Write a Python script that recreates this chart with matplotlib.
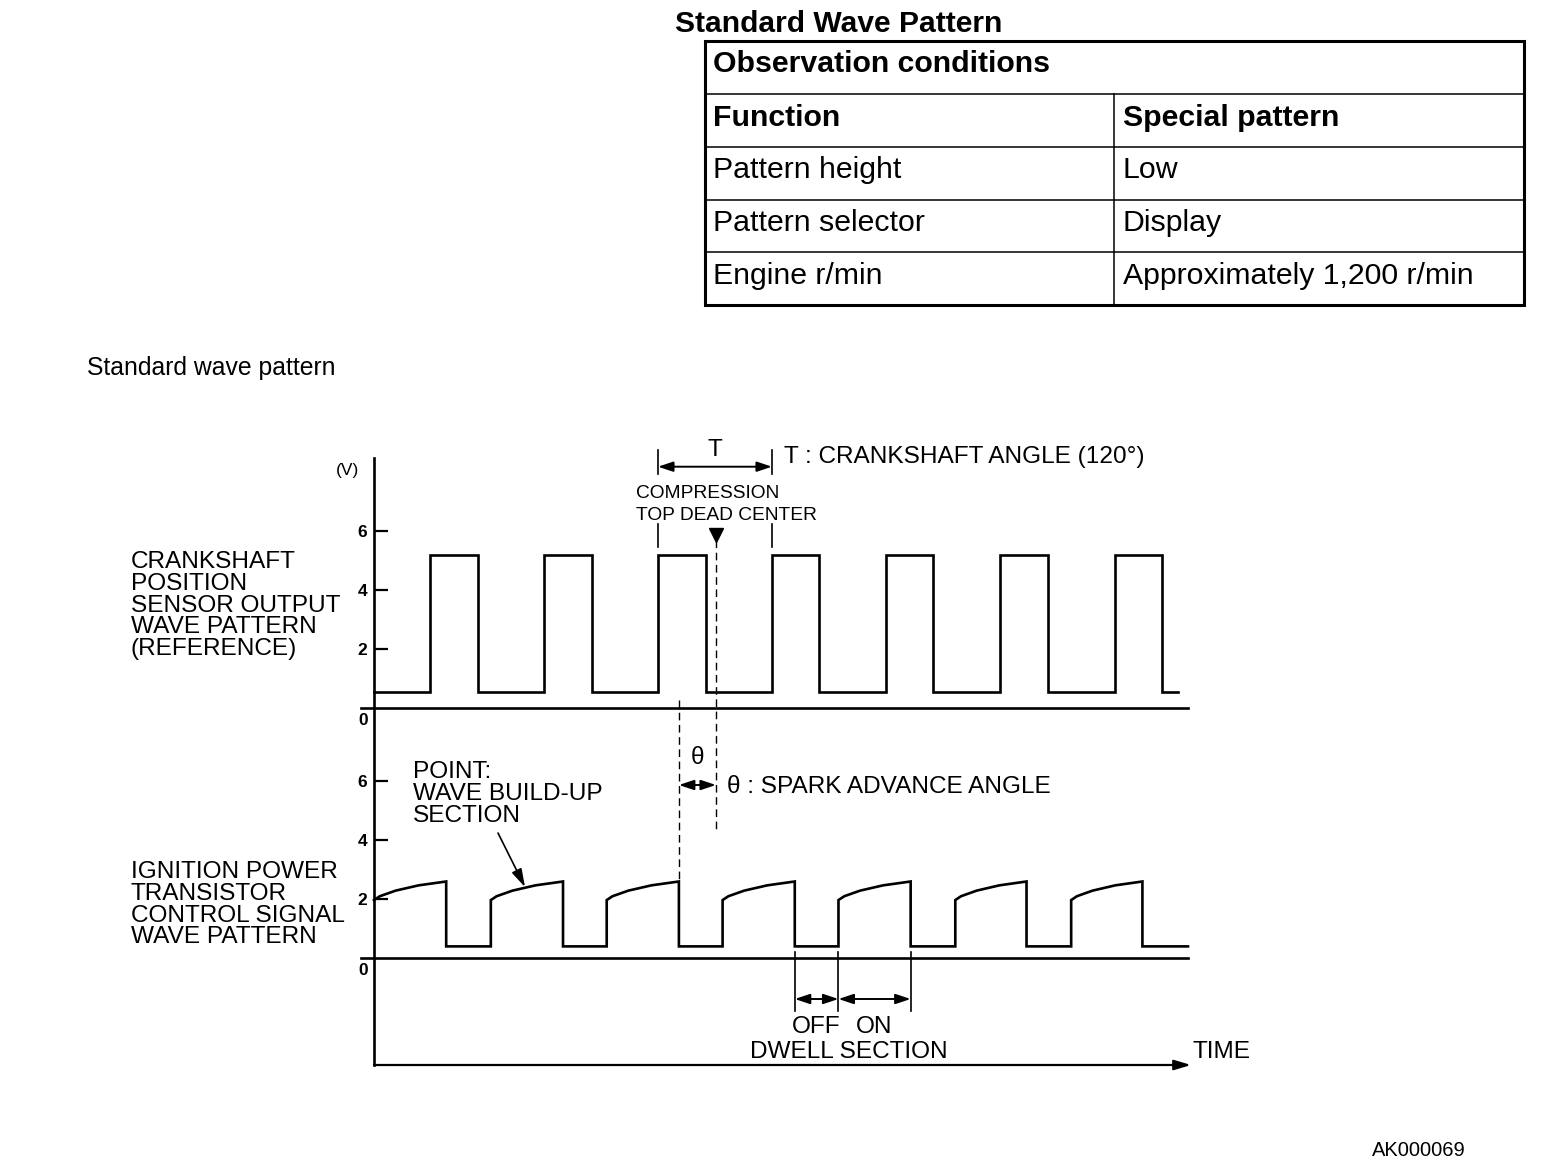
import matplotlib
matplotlib.use("Agg")
import matplotlib.pyplot as plt
from matplotlib.transforms import blended_transform_factory
from matplotlib.patches import Rectangle, ArrowStyle

plt.rcParams['font.family'] = ['Liberation Sans', 'DejaVu Sans']

# ---------------- data ----------------
page_title = "Standard Wave Pattern"
table_header = "Observation conditions"
table_left = ["Function", "Pattern height", "Pattern selector", "Engine r/min"]
table_right = ["Special pattern", "Low", "Display", "Approximately 1,200 r/min"]
section_title = "Standard wave pattern"
figure_code = "AK000069"

yticks = [2, 4, 6]
y_unit = "(V)"

cps_label = ["CRANKSHAFT", "POSITION", "SENSOR OUTPUT", "WAVE PATTERN", "(REFERENCE)"]
ign_label = ["IGNITION POWER", "TRANSISTOR", "CONTROL SIGNAL", "WAVE PATTERN"]
point_label = ["POINT:", "WAVE BUILD-UP", "SECTION"]

# crankshaft position sensor signal: edges in crank angle (deg)
cps_rise = [59, 179, 299, 419, 539, 659, 780]
cps_fall = [110, 230, 350, 469, 589, 710, 830]
cps_end = 846
cps_low = 0.55
cps_high = 5.2

# ignition power transistor control signal
ign_on = [0, 123, 245, 367, 489, 612, 734]    # start of build-up ramp
ign_off = [76, 199, 321, 443, 565, 687, 809]  # ignition (drop)
ign_end = 857
ign_low = 0.38
ramp_frac = [0.0, 0.08, 0.3, 0.62, 1.0]
ramp_volt = [1.95, 2.08, 2.27, 2.45, 2.58]

time_max = 857
tdc_angle = 360
point_target = (159, 2.39)

# ---------------- figure ----------------
W, H = 1568, 1160
fig = plt.figure(figsize=(W / 100, H / 100), dpi=100)
ov = fig.add_axes([0, 0, 1, 1], zorder=0)
ov.set_xlim(0, W)
ov.set_ylim(H, 0)
ov.axis('off')

X0, X1 = 374, 1188
PXV = 29.5
LW = 1.9
FS = 17.6


def wave_axes(zero_px, vmin, vmax):
    top = zero_px - vmax * PXV
    bot = zero_px - vmin * PXV
    ax = fig.add_axes([X0 / W, 1 - bot / H, (X1 - X0) / W, (bot - top) / H], zorder=2)
    ax.set_xlim(0, time_max)
    ax.set_ylim(vmin, vmax)
    ax.patch.set_alpha(0)
    for s in ax.spines.values():
        s.set_visible(False)
    ax.set_xticks([])
    ax.set_yticks(yticks, labels=[str(v) for v in yticks], fontweight='bold', fontsize=12.5)
    ax.tick_params(axis='y', direction='in', length=10, width=1.6, pad=5)
    ax.axhline(0, xmin=-13 / (X1 - X0), xmax=1, color='k', lw=LW, clip_on=False)
    ax.annotate("0", xy=(0, 0), xycoords='data', xytext=(-6, -17),
                textcoords='offset pixels', ha='right', va='baseline',
                fontsize=12.5, fontweight='bold')
    return ax


ax1 = wave_axes(708.3, -0.6, 8.5)
ax2 = wave_axes(957.6, -0.6, 7.0)

# crankshaft position sensor wave
tx, ty = [0], [cps_low]
for r, f in zip(cps_rise, cps_fall):
    tx += [r, r, f, f]
    ty += [cps_low, cps_high, cps_high, cps_low]
tx.append(cps_end)
ty.append(cps_low)
ax1.plot(tx, ty, color='k', lw=LW, solid_joinstyle='miter', clip_on=False)

# ignition power transistor wave
bx, by = [], []
for k, (on, off) in enumerate(zip(ign_on, ign_off)):
    if k > 0:
        bx.append(on)
        by.append(ign_low)
    for fr, v in zip(ramp_frac, ramp_volt):
        bx.append(on + fr * (off - on))
        by.append(v)
    bx.append(off)
    by.append(ign_low)
bx.append(ign_end)
by.append(ign_low)
ax2.plot(bx, by, color='k', lw=LW, solid_joinstyle='miter', clip_on=False)

# axes lines
ov.plot([X0, X0], [458, 1065], color='k', lw=LW)
ov.annotate('', xy=(1191, 1065), xytext=(X0, 1065), xycoords='data', textcoords='data',
            arrowprops=dict(arrowstyle=ArrowStyle('-|>', head_length=10, head_width=3),
                            mutation_scale=1, lw=1.6, color='k', shrinkA=0, shrinkB=0))

bt = blended_transform_factory(ax1.transData, ov.transData)
dash = (0, (5.5, 3.3))

# T markers (one crank period)
tA, tB = cps_rise[2], cps_rise[3]
for xv in (tA, tB):
    ov.plot([xv, xv], [450, 474], color='k', lw=1.2, transform=bt)
    ov.plot([xv, xv], [524, 547], color='k', lw=1.2, transform=bt)
dbl = ArrowStyle('<|-|>', head_length=9, head_width=3)
ov.annotate('', xy=(tB, 466.7), xytext=(tA, 466.7), xycoords=bt, textcoords=bt,
            arrowprops=dict(arrowstyle=dbl, mutation_scale=1, lw=1.4, color='k',
                            shrinkA=0, shrinkB=0))
ov.text((tA + tB) / 2, 456, "T", transform=bt, ha='center', va='baseline', fontsize=FS)
ov.text(784, 463, "T : CRANKSHAFT ANGLE (120°)", ha='left', va='baseline', fontsize=FS)
ov.text(636, 498, "COMPRESSION", ha='left', va='baseline', fontsize=13.8)
ov.text(636, 520, "TOP DEAD CENTER", ha='left', va='baseline', fontsize=13.8)

# TDC marker and dashed lines
ov.plot([tdc_angle], [535], marker='v', ms=10, color='k', transform=bt, clip_on=False)
ov.plot([tdc_angle, tdc_angle], [540, 830], color='k', lw=1.0, ls=dash, transform=bt)
ov.plot([ign_off[2], ign_off[2]], [700, 882], color='k', lw=1.0, ls=dash, transform=bt)

# spark advance
ov.annotate('', xy=(tdc_angle, 785), xytext=(ign_off[2], 785), xycoords=bt, textcoords=bt,
            arrowprops=dict(arrowstyle=dbl, mutation_scale=1, lw=1.4, color='k',
                            shrinkA=0, shrinkB=0))
ov.text((tdc_angle + ign_off[2]) / 2, 764, "θ", transform=bt, ha='center', va='baseline',
        fontsize=FS)
ov.text(727, 793, "θ : SPARK ADVANCE ANGLE", ha='left', va='baseline', fontsize=FS)

# dwell section
for xv in (ign_off[3], ign_on[4], ign_off[4]):
    ov.plot([xv, xv], [952, 1010.5], color='k', lw=1.2, transform=bt)
for a, b in ((ign_off[3], ign_on[4]), (ign_on[4], ign_off[4])):
    ov.annotate('', xy=(b, 999), xytext=(a, 999), xycoords=bt, textcoords=bt,
                arrowprops=dict(arrowstyle=dbl, mutation_scale=1, lw=1.4, color='k',
                                shrinkA=0, shrinkB=0))
ov.text((ign_off[3] + ign_on[4]) / 2, 1033.3, "OFF", transform=bt, ha='center',
        va='baseline', fontsize=FS)
ov.text((ign_on[4] + ign_off[4]) / 2, 1033.3, "ON", transform=bt, ha='center',
        va='baseline', fontsize=FS)
ov.text(849, 1058, "DWELL SECTION", ha='center', va='baseline', fontsize=FS)
ov.text(1193, 1058, "TIME", ha='left', va='baseline', fontsize=FS)

# left labels
for i, s in enumerate(cps_label):
    ov.text(131, 568.3 + 21.7 * i, s, ha='left', va='baseline', fontsize=FS)
for i, s in enumerate(ign_label):
    ov.text(131, 878.3 + 21.7 * i, s, ha='left', va='baseline', fontsize=FS)
for i, s in enumerate(point_label):
    ov.text(413, 778.3 + 21.7 * i, s, ha='left', va='baseline', fontsize=FS)
ax2.annotate('', xy=point_target, xycoords='data', xytext=(498, 833),
             textcoords=ov.transData,
             arrowprops=dict(arrowstyle=ArrowStyle('-|>', head_length=11, head_width=3.2),
                             mutation_scale=1, lw=1.2, color='k', shrinkA=0, shrinkB=0))
ov.text(359, 475, y_unit, ha='right', va='baseline', fontsize=12.5)

ov.text(87, 375, section_title, ha='left', va='baseline', fontsize=17.8)
ov.text(1372, 1156.5, figure_code, ha='left', va='baseline', fontsize=14.5)

# ---------------- table ----------------
ov.text(675, 32, page_title, ha='left', va='baseline', fontsize=21.6, fontweight='bold')
TL, TR, TT, TB = 705, 1524, 41, 305
row_lines = [94, 147, 199.5, 252]
col_x = 1114
ov.add_patch(Rectangle((TL, TT), TR - TL, TB - TT, fill=False, lw=2.2, ec='k'))
for yv in row_lines:
    ov.plot([TL, TR], [yv, yv], color='k', lw=1.1)
ov.plot([col_x, col_x], [row_lines[0], TB], color='k', lw=1.1)
ov.text(713, 72.5, table_header, ha='left', va='baseline', fontsize=21.8, fontweight='bold')
bases = [125.5, 178.5, 231, 284]
for i, (a, b) in enumerate(zip(table_left, table_right)):
    fw = 'bold' if i == 0 else 'normal'
    ov.text(713, bases[i], a, ha='left', va='baseline', fontsize=21.8, fontweight=fw)
    ov.text(1123, bases[i], b, ha='left', va='baseline', fontsize=21.8, fontweight=fw)

fig.savefig("out.png", dpi=100)
